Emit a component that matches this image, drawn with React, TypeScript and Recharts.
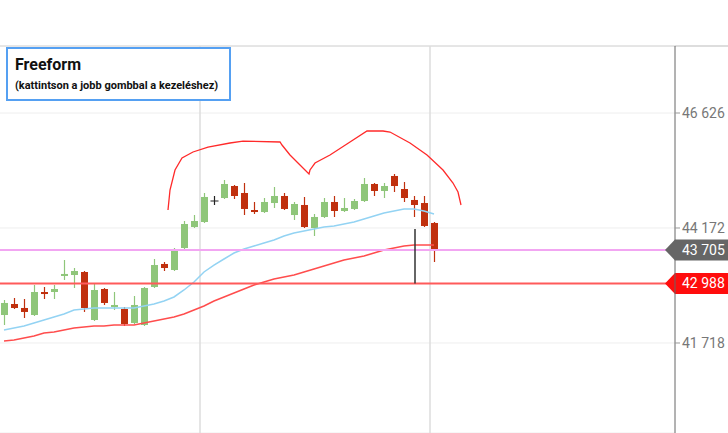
import React from "react";
import {
  ComposedChart,
  Bar,
  Line,
  XAxis,
  YAxis,
  CartesianGrid,
  ReferenceLine,
} from "recharts";

// candles, oldest first
const opens = [42315, 42550, 42465, 42315, 42806, 42806, 43148, 43169, 43233, 42209, 42870, 42486, 42443, 42145, 42102, 42913, 43404, 43276, 43745, 44193, 44300, 44748, 44812, 45068, 44919, 44556, 44513, 44705, 44855, 44449, 44663, 44172, 44407, 44727, 44535, 44578, 44748, 45111, 44962, 45282, 45004, 44770, 44705, 44279];
const closes = [42572, 42465, 42380, 42806, 42763, 42870, 43191, 43254, 42465, 42849, 42572, 42529, 42123, 42529, 42891, 43382, 43318, 43681, 44257, 44321, 44834, 44748, 45111, 44855, 44578, 44513, 44727, 44855, 44578, 44684, 44193, 44407, 44727, 44535, 44599, 44748, 45111, 44962, 45068, 45068, 44812, 44663, 44215, 43705];
const highs = [42636, 42678, 42657, 42956, 42913, 42956, 43489, 43318, 43254, 42977, 42891, 42806, 42486, 42721, 42913, 43510, 43446, 43745, 44321, 44449, 44919, 44855, 45196, 45090, 45132, 44727, 44812, 45047, 44919, 44727, 44834, 44471, 44812, 44855, 44812, 44791, 45239, 45132, 45132, 45324, 45154, 44855, 44855, 44300];
const lows = [42102, 42443, 42251, 42294, 42657, 42657, 43062, 42891, 42380, 42187, 42529, 42422, 42081, 42123, 42081, 42891, 43254, 43254, 43724, 44172, 44279, 44663, 44791, 44791, 44449, 44471, 44492, 44599, 44556, 44343, 44172, 44001, 44385, 44407, 44513, 44556, 44727, 44855, 44812, 44940, 44727, 44407, 44193, 43446];

// moving averages
const maFast = [41995, 42038, 42081, 42145, 42209, 42273, 42337, 42422, 42443, 42465, 42465, 42465, 42465, 42465, 42508, 42550, 42614, 42700, 42849, 43020, 43233, 43382, 43510, 43638, 43724, 43788, 43852, 43916, 44001, 44065, 44108, 44151, 44193, 44215, 44257, 44300, 44364, 44428, 44492, 44535, 44578, 44578, 44535, 44471];
const maSlow = [41761, 41782, 41825, 41868, 41932, 41953, 41995, 42038, 42059, 42081, 42081, 42102, 42102, 42102, 42145, 42187, 42230, 42273, 42337, 42422, 42508, 42614, 42700, 42785, 42870, 42956, 43020, 43084, 43126, 43169, 43233, 43297, 43361, 43425, 43489, 43532, 43574, 43638, 43702, 43745, 43788, 43809, 43809, 43809];

// hand-drawn freeform, in (candle index, price)
const freeX = [16.4, 16.6, 17.1, 17.8, 18.9, 20.4, 22.6, 23.9, 27.6, 27.8, 28.6, 29.6, 30.5, 30.6, 31.1, 32.6, 34.6, 36.3, 37.9, 38.6, 40.6, 42.3, 43.9, 44.9, 45.4, 45.7];
const freeY = [44556, 44983, 45410, 45666, 45794, 45900, 45986, 46028, 46007, 45943, 45730, 45516, 45324, 45410, 45559, 45730, 46007, 46242, 46242, 46220, 45986, 45730, 45410, 45132, 44940, 44663];

const yTicks = [41718, 44172, 46626];
const lastPrice = 43705;
const levelPrice = 42988;
const dayBreaks = [19.6, 42.6];
const TOTAL_SLOTS = 68;

const UP = "#8fc67a";
const DOWN = "#c0300e";

const data = Array.from({ length: TOTAL_SLOTS }, (_, i) =>
  i < opens.length
    ? { i, o: opens[i], c: closes[i], h: highs[i], l: lows[i], fast: maFast[i], slow: maSlow[i] }
    : { i }
);
const freeform = freeX.map((x, k) => ({ x, y: freeY[k] }));

const fmt = (v: number) => {
  const s = String(Math.round(v));
  return s.slice(0, s.length - 3) + " " + s.slice(-3);
};

function Candle(props: any) {
  const { x, y, width, height, payload } = props;
  if (!payload || payload.o == null || !height) return null;
  const { o, c, h, l } = payload;
  const k = height / (h - l);
  const cx = x + width / 2;
  const yo = y + (h - o) * k;
  const yc = y + (h - c) * k;
  if (o === c) {
    return (
      <g stroke="#222" strokeWidth={1.2}>
        <line x1={cx} x2={cx} y1={y} y2={y + height} />
        <line x1={cx - 4} x2={cx + 4} y1={yo} y2={yo} />
      </g>
    );
  }
  const color = c > o ? UP : DOWN;
  const top = Math.min(yo, yc);
  const bh = Math.max(Math.abs(yo - yc), 1.5);
  return (
    <g>
      <line x1={cx} x2={cx} y1={y} y2={y + height} stroke={color} strokeWidth={1.2} />
      <rect x={x} y={top} width={width} height={bh} fill={color} />
    </g>
  );
}

function PriceTag({ viewBox, value, fill }: any) {
  if (!viewBox) return null;
  const x = viewBox.x + viewBox.width;
  const y = viewBox.y;
  return (
    <g>
      <path d={`M${x - 10},${y} L${x},${y - 10.5} L${x + 53},${y - 10.5} L${x + 53},${y + 10.5} L${x},${y + 10.5} Z`} fill={fill} />
      <text x={x + 7} y={y + 5} fill="#fff" fontSize={14} fontFamily="Roboto">
        {fmt(value)}
      </text>
    </g>
  );
}

export default function App() {
  return (
    <div style={{ position: "absolute", left: 0, top: 0, width: 728, height: 433, background: "#fff", fontFamily: "Roboto", overflow: "hidden" }}>
      <div style={{ position: "absolute", left: 0, top: 45, width: 728, height: 1.5, background: "#ddd" }} />
      <ComposedChart width={728} height={433} data={data} margin={{ top: 46, right: 0, bottom: 0, left: 0 }}>
        <CartesianGrid horizontal vertical={false} stroke="#eee" />
        <XAxis dataKey="i" type="category" hide padding={{ left: -1, right: -4 }} />
        <XAxis xAxisId="free" dataKey="x" type="number" hide domain={[-0.4, 67.1]} allowDataOverflow />
        <YAxis
          orientation="right"
          width={53}
          domain={[39797, 48056]}
          allowDataOverflow
          ticks={yTicks}
          tickFormatter={fmt}
          axisLine={{ stroke: "#666" }}
          tickLine={{ stroke: "#999" }}
          tickSize={5}
          tickMargin={2}
          tick={{ fill: "#777", fontSize: 14, fontFamily: "Roboto" }}
        />
        {dayBreaks.map((d) => (
          <ReferenceLine key={d} xAxisId="free" x={d} stroke="#ddd" strokeWidth={1.5} />
        ))}
        <Line dataKey="slow" stroke="#ff4d4d" strokeWidth={1.5} dot={false} isAnimationActive={false} />
        <Line dataKey="fast" stroke="#93d3f3" strokeWidth={1.5} dot={false} isAnimationActive={false} />
        <Bar dataKey={(d: any) => (d.o == null ? undefined : [d.l, d.h])} barSize={7} shape={<Candle />} isAnimationActive={false} />
        <ReferenceLine y={levelPrice} stroke="#ff5a5a" strokeWidth={2} label={<PriceTag value={levelPrice} fill="#ff0d0d" />} />
        <ReferenceLine y={lastPrice} stroke="#f2a6f2" strokeWidth={2} label={<PriceTag value={lastPrice} fill="#666" />} />
        <ReferenceLine
          xAxisId="free"
          segment={[{ x: 41.1, y: 44151 }, { x: 41.1, y: levelPrice }]}
          stroke="#333"
          strokeWidth={1.5}
        />
        <Line
          xAxisId="free"
          data={freeform}
          dataKey="y"
          type="linear"
          stroke="#ff2a2a"
          strokeWidth={1.3}
          dot={false}
          isAnimationActive={false}
        />
      </ComposedChart>
      <div
        style={{
          position: "absolute",
          left: 6,
          top: 47,
          width: 221,
          height: 50,
          border: "2px solid #55a0f2",
          background: "#fff",
          color: "#111",
          boxSizing: "content-box",
        }}
      >
        <div style={{ position: "absolute", left: 7, top: 6, fontSize: 16, fontWeight: 700 }}>Freeform</div>
        <div style={{ position: "absolute", left: 7, top: 30, fontSize: 11, fontWeight: 700, whiteSpace: "nowrap" }}>
          (kattintson a jobb gombbal a kezeléshez)
        </div>
      </div>
    </div>
  );
}
